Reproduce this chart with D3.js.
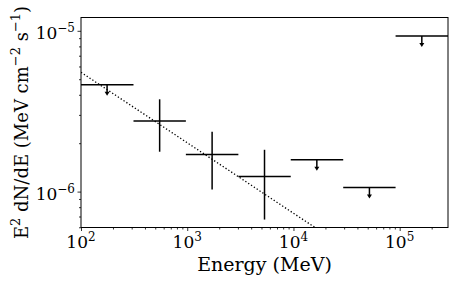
<!DOCTYPE html>
<html>
<head>
<meta charset="utf-8">
<script src="https://cdn.jsdelivr.net/npm/d3@7"></script>
<style>
  body { margin: 0; background: #fff; }
</style>
</head>
<body>
<script>
const w = 460;
const h = 287;
const margin = { left: 81, top: 17.5, right: 12, bottom: 59.5 };
const font = "'DejaVu Serif', 'Liberation Serif', serif";

// energy bins (MeV)
const binLo = [100, 312, 971, 3030, 9430, 29400, 91500];
const binHi = [312, 971, 3030, 9430, 29400, 91500, 285000];
const binCenter = [176, 550, 1715, 5340, 16600, 51900, 161600];
// E^2 dN/dE (MeV cm^-2 s^-1)
const flux = [4.62e-6, 2.75e-6, 1.7e-6, 1.24e-6, 1.58e-6, 1.06e-6, 9.3e-6];
const fluxHi = [null, 3.75e-6, 2.36e-6, 1.82e-6, null, null, null];
const fluxLo = [null, 1.77e-6, 1.03e-6, 6.7e-7, null, null, null];
const upperLimit = [true, false, false, false, true, true, true];

// power-law model
const modelE = [100, 285000];
const modelF = [5.52e-6, 1.69e-7];

const xDomain = [100, 285000];
const yDomain = [5.98e-7, 1.21e-5];
const xTickExp = [2, 3, 4, 5];
const yTickExp = [-6, -5];

const points = binCenter.map((e, i) => ({
  e, lo: binLo[i], hi: binHi[i], f: flux[i],
  fHi: fluxHi[i], fLo: fluxLo[i], ul: upperLimit[i]
}));

const svg = d3.select("body").append("svg")
  .attr("width", w).attr("height", h)
  .style("font-family", font);

const x = d3.scaleLog().domain(xDomain).range([margin.left, w - margin.right]);
const y = d3.scaleLog().domain(yDomain).range([h - margin.bottom, margin.top]);

// minor ticks
const xMinor = [];
for (let p = 2; p <= 5; p++) for (let m = 2; m <= 9; m++) {
  const v = m * Math.pow(10, p);
  if (v > xDomain[0] && v < xDomain[1]) xMinor.push(v);
}
const yMinor = [];
for (let p = -7; p <= -5; p++) for (let m = 2; m <= 9; m++) {
  const v = m * Math.pow(10, p);
  if (v > yDomain[0] && v < yDomain[1]) yMinor.push(v);
}

const xAxis = svg.append("g").attr("transform", `translate(0,${h - margin.bottom})`);
xAxis.call(d3.axisBottom(x).tickValues(xMinor).tickSize(2).tickFormat(""));
xAxis.append("g").call(d3.axisBottom(x).tickValues(xTickExp.map(p => Math.pow(10, p))).tickSize(3.5).tickFormat(""));
xAxis.selectAll(".domain").remove();
xAxis.selectAll("line").attr("stroke", "#000").attr("stroke-width", 0.8);

const yAxis = svg.append("g").attr("transform", `translate(${margin.left},0)`);
yAxis.call(d3.axisLeft(y).tickValues(yMinor).tickSize(2).tickFormat(""));
yAxis.append("g").call(d3.axisLeft(y).tickValues(yTickExp.map(p => Math.pow(10, p))).tickSize(3.5).tickFormat(""));
yAxis.selectAll(".domain").remove();
yAxis.selectAll("line").attr("stroke", "#000").attr("stroke-width", 0.8);

// tick labels as 10^n
const fs = 17;
xTickExp.forEach(p => {
  const t = svg.append("text")
    .attr("x", x(Math.pow(10, p)))
    .attr("y", h - margin.bottom + 20)
    .attr("text-anchor", "middle")
    .style("font-family", font)
    .style("font-size", fs + "px");
  t.append("tspan").text("10");
  t.append("tspan").attr("dy", -7).style("font-size", "12px").text(p);
});
yTickExp.forEach(p => {
  const t = svg.append("text")
    .attr("x", margin.left - 6)
    .attr("y", y(Math.pow(10, p)) + 8)
    .attr("text-anchor", "end")
    .style("font-family", font)
    .style("font-size", fs + "px");
  t.append("tspan").text("10");
  t.append("tspan").attr("dy", -7).style("font-size", "12px").text("\u2212" + (-p));
});

// model line
svg.append("clipPath").attr("id", "clip").append("rect")
  .attr("x", margin.left).attr("y", margin.top)
  .attr("width", w - margin.left - margin.right)
  .attr("height", h - margin.top - margin.bottom);

svg.append("path")
  .datum(modelE.map((e, i) => [e, modelF[i]]))
  .attr("clip-path", "url(#clip)")
  .attr("d", d3.line().x(d => x(d[0])).y(d => y(d[1])))
  .attr("fill", "none")
  .attr("stroke", "#000")
  .attr("stroke-width", 1.3)
  .attr("stroke-dasharray", "1.3,2.1");

// error bars
const marks = svg.append("g").attr("stroke", "#000").attr("stroke-width", 1.5).attr("fill", "none");
points.forEach(d => {
  marks.append("line").attr("x1", x(d.lo)).attr("x2", x(d.hi)).attr("y1", y(d.f)).attr("y2", y(d.f));
  if (d.ul) {
    const cx = x(d.e), y0 = y(d.f), tip = y0 + 11;
    marks.append("line").attr("x1", cx).attr("x2", cx).attr("y1", y0).attr("y2", tip - 2);
    svg.append("path")
      .attr("d", `M${cx - 2.5},${tip - 4}L${cx + 2.5},${tip - 4}L${cx},${tip}Z`)
      .attr("fill", "#000");
  } else {
    marks.append("line").attr("x1", x(d.e)).attr("x2", x(d.e)).attr("y1", y(d.fHi)).attr("y2", y(d.fLo));
  }
});

// frame
svg.append("rect")
  .attr("x", margin.left).attr("y", margin.top)
  .attr("width", w - margin.left - margin.right)
  .attr("height", h - margin.top - margin.bottom)
  .attr("fill", "none").attr("stroke", "#000").attr("stroke-width", 1);

// axis labels
svg.append("text")
  .attr("x", (margin.left + w - margin.right) / 2)
  .attr("y", 271)
  .attr("text-anchor", "middle")
  .style("font-family", font)
  .style("font-size", "19px")
  .text("Energy (MeV)");

const yl = svg.append("text")
  .attr("transform", `translate(28,${(margin.top + h - margin.bottom) / 2}) rotate(-90)`)
  .attr("text-anchor", "middle")
  .style("font-family", font)
  .style("font-size", "18px");
yl.append("tspan").text("E");
yl.append("tspan").attr("dy", -8).style("font-size", "13px").text("2");
yl.append("tspan").attr("dy", 8).text(" dN/dE (MeV cm");
yl.append("tspan").attr("dy", -8).style("font-size", "13px").text("\u22122");
yl.append("tspan").attr("dy", 8).text(" s");
yl.append("tspan").attr("dy", -8).style("font-size", "13px").text("\u22121");
yl.append("tspan").attr("dy", 8).text(")");
</script>
</body>
</html>
